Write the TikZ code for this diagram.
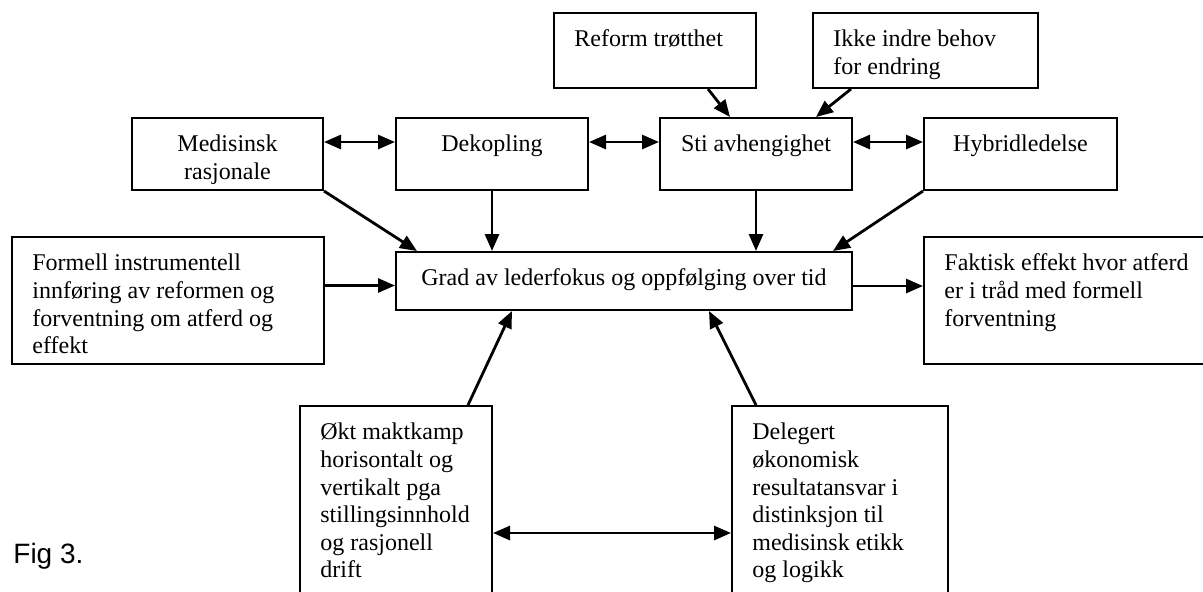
\documentclass[tikz,border=0pt]{standalone}
\usepackage{fontspec}
\setmainfont{Liberation Serif}
\newfontfamily\figfont{Liberation Sans}
\usetikzlibrary{arrows.meta}

\begin{document}
\begin{tikzpicture}[x=0.5pt,y=-0.5pt,
  boks/.style={draw,line width=1pt,inner sep=0pt},
  tekst/.style={font=\fontsize{12}{13.8}\selectfont,inner sep=0pt},
  venstre/.style={label={[tekst,align=left,anchor=north west,xshift=10.5pt,yshift=-7.6pt]north west:\strut #1}},
  midt/.style={label={[tekst,align=center,anchor=north,yshift=-7.6pt]north:\strut #1}},
  pil/.style={-{Triangle[length=8.5pt,width=7pt]},line width=1.4pt},
  dpil/.style={{Triangle[length=8.5pt,width=7pt]}-{Triangle[length=8.5pt,width=7pt]},line width=1.4pt}]
  \useasboundingbox (0,0) rectangle (1203,591);
  \clip (0,0) rectangle (1203,591);
  % top row
  \node[boks,minimum width=101pt,minimum height=37.5pt,venstre={Reform trøtthet}] (reform) at (655,50.5) {};
  \node[boks,minimum width=112.5pt,minimum height=37.5pt,venstre={Ikke indre behov\\for endring}] (ikke) at (925.5,50.5) {};
  \node[boks,minimum width=95.5pt,minimum height=36pt,midt={Medisinsk\\rasjonale}] (med) at (227.5,154) {};
  \node[boks,minimum width=96pt,minimum height=36pt,midt={Dekopling}] (dek) at (492,154) {};
  \node[boks,minimum width=96pt,minimum height=36pt,midt={Sti avhengighet}] (sti) at (756,154) {};
  \node[boks,minimum width=96.5pt,minimum height=36pt,midt={Hybridledelse}] (hyb) at (1020.5,154) {};
  % middle row
  \node[boks,minimum width=156pt,minimum height=63.5pt,venstre={Formell instrumentell\\innføring av reformen og\\forventning om atferd og\\effekt}] (formell) at (168,300.5) {};
  \node[boks,minimum width=228pt,minimum height=29pt,midt={Grad av lederfokus og oppfølging over tid}] (grad) at (624,281) {};
  \node[boks,minimum width=156pt,minimum height=63.5pt,venstre={Faktisk effekt hvor atferd\\er i tråd med formell\\forventning}] (faktisk) at (1080,300.5) {};
  % bottom row
  \node[boks,minimum width=96pt,minimum height=110pt,venstre={Økt maktkamp\\horisontalt og\\vertikalt pga\\stillingsinnhold\\og rasjonell\\drift}] (okt) at (396,516) {};
  \node[boks,minimum width=108pt,minimum height=110pt,venstre={Delegert\\økonomisk\\resultatansvar i\\distinksjon til\\medisinsk etikk\\og logikk}] (deleg) at (840,516) {};
  \node[anchor=base west,inner sep=0pt,font=\figfont\fontsize{14}{16.8}\selectfont] (fig) at (13,563) {Fig 3.};

  \draw[dpil] ([yshift=6pt]med.east) -- ([yshift=6pt]dek.west);
  \draw[dpil] ([yshift=6pt]dek.east) -- ([yshift=6pt]sti.west);
  \draw[dpil] ([yshift=6pt]sti.east) -- ([yshift=6pt]hyb.west);
  \draw[pil] ([xshift=26.5pt]reform.south) -- ([xshift=35.5pt]sti.north west);
  \draw[pil] ([xshift=19.5pt]ikke.south west) -- ([xshift=-18.5pt]sti.north east);
  \draw[pil] (med.south east) -- ([xshift=11pt]grad.north west);
  \draw[pil] (dek.south) -- (dek.south |- grad.north);
  \draw[pil] (sti.south) -- (sti.south |- grad.north);
  \draw[pil] (hyb.south west) -- ([xshift=-10pt]grad.north east);
  \draw[pil] ([yshift=7.5pt]formell.east) -- ([yshift=7.5pt]formell.east -| grad.west);
  \draw[pil] ([yshift=-2.5pt]grad.east) -- ([yshift=-2.5pt]grad.east -| faktisk.west);
  \draw[pil] ([xshift=36pt]okt.north) -- ([xshift=58.5pt]grad.south west);
  \draw[pil] ([xshift=12.5pt]deleg.north west) -- ([xshift=-72pt]grad.south east);
  \draw[dpil] ([yshift=-64pt]okt.north east) -- ([yshift=-64pt]okt.north east -| deleg.west);
\end{tikzpicture}
\end{document}
